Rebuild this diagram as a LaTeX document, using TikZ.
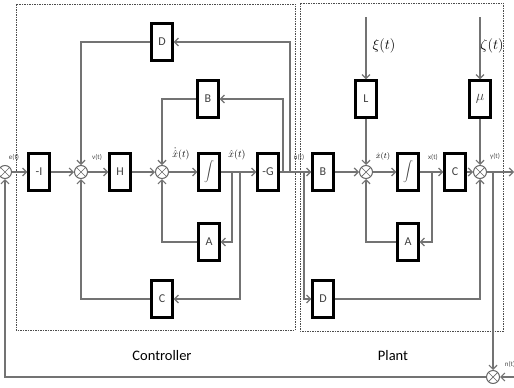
\documentclass[tikz,border=0pt]{standalone}
\usepackage{fontspec}
\setmainfont{Carlito}
\usetikzlibrary{arrows.meta,positioning}

\begin{document}
\begin{tikzpicture}[
  x=1pt,y=-1pt,
  box/.style={draw,line width=2.2pt,minimum width=21pt,minimum height=37pt,
              inner sep=0pt,font=\fontsize{12}{14}\selectfont,text=black!75},
  sum/.style={circle,draw=gray!80!black,line width=1pt,minimum size=13pt,
              inner sep=0pt,
              path picture={\draw[gray!80!black,line width=0.7pt]
                (path picture bounding box.north west) -- (path picture bounding box.south east)
                (path picture bounding box.north east) -- (path picture bounding box.south west);}},
  ln/.style={draw=black!55,line width=1.2pt},
  ar/.style={ln,-{Straight Barb[length=4pt,width=8pt]}},
  sig/.style={font=\fontsize{7}{8}\selectfont,text=black!70,inner sep=0.5pt},
  mth/.style={font=\fontsize{10}{12}\selectfont,inner sep=0.5pt},
  noise/.style={font=\fontsize{15}{17}\selectfont,inner sep=0.5pt},
  part/.style={draw=black!70,dash pattern=on 1.5pt off 1pt,line width=0.7pt},
  ttl/.style={font=\fontsize{14.5}{16}\selectfont},
]
\useasboundingbox (0,0) rectangle (514,388);
\draw[part] (16,4) rectangle (295,330);
\draw[part] (300,3) rectangle (503,331);

% controller
\node[sum] (s0) at (5,172) {};
\node[box] (mi) at (39,172) {-I};
\node[sum] (s1) at (81,172) {};
\node[box] (h) at (120,172) {H};
\node[sum] (s2) at (162,172) {};
\node[box] (ic) at (209,172) {$\displaystyle\int$};
\node[box] (mg) at (268,172) {-G};
\node[box] (dc) at (162,42) {D};
\node[box] (bc) at (208,99) {B};
\node[box] (ac) at (209,242) {A};
\node[box] (cc) at (162,299) {C};

% plant
\node[box] (bp) at (323,172) {B};
\node[sum] (s3) at (366,172) {};
\node[box] (ip) at (408,172) {$\displaystyle\int$};
\node[box] (cp) at (455,172) {C};
\node[sum] (s4) at (480,172) {};
\node[box] (l) at (366,99) {L};
\node[box] (mu) at (480,99) {\fontsize{15}{17}\selectfont$\mu$};
\node[box] (ap) at (408,242) {A};
\node[box] (dp) at (323,299) {D};
\node[sum] (s5) at (493,377) {};

\coordinate (u1) at (283,172);
\coordinate (u2) at (290,172);
\coordinate (u3) at (304,172);
\coordinate (xh1) at (232,172);
\coordinate (xh2) at (240,172);
\coordinate (xo) at (432,172);
\coordinate (yo) at (493,172);
\coordinate (yend) at (514,172);
\coordinate (xi) at (366,17);
\coordinate (ze) at (480,17);
\coordinate (nin) at (514,377);

\draw[ar] (s0) -- (mi);
\draw[ar] (mi) -- (s1);
\draw[ar] (s1) -- (h);
\draw[ar] (h) -- (s2);
\draw[ar] (s2) -- (ic);
\draw[ar] (ic) -- (mg);
\draw[ar] (mg) -- (bp);
\draw[ar] (bp) -- (s3);
\draw[ar] (s3) -- (ip);
\draw[ar] (ip) -- (cp);
\draw[ar] (cp) -- (s4);
\draw[ar] (s4) -- (yend);

\draw[ar] (u1) |- (bc);
\draw[ar] (u2) |- (dc);
\draw[ar] (bc) -| (s2);
\draw[ar] (dc) -| (s1);
\draw[ar] (xh1) |- (ac);
\draw[ar] (xh2) |- (cc);
\draw[ar] (ac) -| (s2);
\draw[ar] (cc) -| (s1);

\draw[ar] (u3) |- (dp);
\draw[ar] (dp) -| (s4);
\draw[ar] (xo) |- (ap);
\draw[ar] (ap) -| (s3);
\draw[ar] (xi) -- (l);
\draw[ar] (l) -- (s3);
\draw[ar] (ze) -- (mu);
\draw[ar] (mu) -- (s4);
\draw[ar] (yo) -- (s5);
\draw[ar] (nin) -- (s5);
\draw[ar] (s5) -| (s0);

% signal labels
\node[sig] (le) at (14,157) {e(t)};
\node[sig] (lv) at (97,157) {v(t)};
\node[mth] (ldxh) at (181,154) {$\dot{\hat{x}}(t)$};
\node[mth] (lxh) at (237,155) {$\hat{x}(t)$};
\node[sig] (lu) at (299,157) {u(t)};
\node[mth,font=\fontsize{8}{10}\selectfont] (ldx) at (383,156) {$\dot{x}(t)$};
\node[sig] (lx) at (433,157) {x(t)};
\node[sig] (ly) at (495,157) {y(t)};
\node[sig] (ln) at (510,364) {n(t)};
\node[noise] (lxi) at (384,46) {$\xi(t)$};
\node[noise] (lze) at (492,46) {$\zeta(t)$};

\node[ttl] (tc) at (162,356) {Controller};
\node[ttl] (tp) at (393,356) {Plant};
\end{tikzpicture}
\end{document}
